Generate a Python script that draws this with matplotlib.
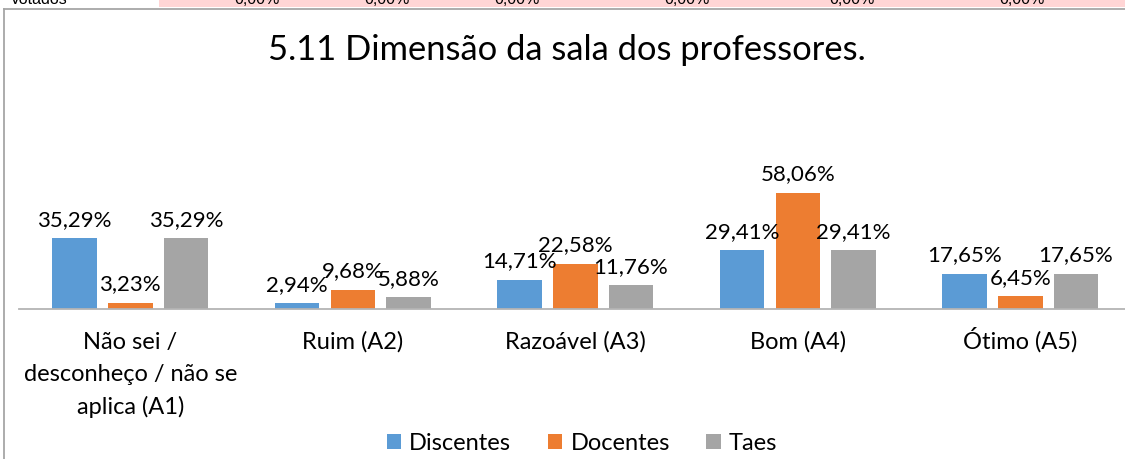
import matplotlib.pyplot as plt
from matplotlib.patches import Patch, Rectangle
from matplotlib.lines import Line2D
import numpy as np

# dados do gráfico
categorias = ['Não sei /\ndesconheço / não se\naplica (A1)', 'Ruim (A2)',
              'Razoável (A3)', 'Bom (A4)', 'Ótimo (A5)']
series = ['Discentes', 'Docentes', 'Taes']
discentes = [35.29, 2.94, 14.71, 29.41, 17.65]
docentes = [3.23, 9.68, 22.58, 58.06, 6.45]
taes = [35.29, 5.88, 11.76, 29.41, 17.65]
cores = ['#5B9BD5', '#ED7D31', '#A5A5A5']

# linha da planilha que aparece cortada acima do gráfico
linha_topo = ['0,00%'] * 6
linha_topo_x = [257, 387, 517, 687, 852, 1022]

W, H = 1125, 459
PX = 0.72  # pontos por pixel com dpi=100
plt.rcParams['font.family'] = ['Lato', 'DejaVu Sans']

fig = plt.figure(figsize=(W / 100, H / 100), dpi=100)

# faixa rosa com os textos cortados
fig.add_artist(Rectangle((159 / W, 1 - 7 / H), 1, 7 / H, transform=fig.transFigure,
                         facecolor='#ffd5d5', edgecolor='none'))
fig.text(68 / W, 1 - 4.5 / H, 'Votados', ha='right', va='baseline',
         fontsize=11.5, family='Liberation Sans', color='black')
for txt, x in zip(linha_topo, linha_topo_x):
    fig.text(x / W, 1 - 4.5 / H, txt, ha='center', va='baseline',
             fontsize=11.5, family='Liberation Sans', color='black')

# borda da área do gráfico
borda = '#a6a6a6'
fig.add_artist(Line2D([4 / W, 4 / W], [0, 1 - 8.5 / H], transform=fig.transFigure,
                      color=borda, lw=1.3))
fig.add_artist(Line2D([4 / W, 1], [1 - 8.5 / H, 1 - 8.5 / H], transform=fig.transFigure,
                      color=borda, lw=1.3))

# eixo ocupa de x=19 px até além da borda direita
ax = fig.add_axes([19 / W, 150 / H, 1112.5 / W, 140 / H])
x = np.arange(len(categorias))
largura = 0.2
passo = 0.25

for i, (nome, valores) in enumerate(zip(series, [discentes, docentes, taes])):
    barras = ax.bar(x + (i - 1) * passo, valores, largura, color=cores[i], label=nome)
    rotulos = [f'{v:.2f}%'.replace('.', ',') for v in valores]
    ax.bar_label(barras, labels=rotulos, padding=6, fontsize=16, color='#000000')

ax.set_xlim(-0.5, len(categorias) - 0.5)
ax.set_ylim(0, 70)
ax.set_xticks([])
ax.set_yticks([])
for lado in ['top', 'right', 'left']:
    ax.spines[lado].set_visible(False)
ax.spines['bottom'].set_color('#b4b4b4')
ax.spines['bottom'].set_linewidth(1.3)
ax.set_facecolor('none')

# rótulos das categorias, linha a linha, alinhados pela linha de base
for xi, cat in zip(x, categorias):
    for j, linha in enumerate(cat.split('\n')):
        ax.annotate(linha, xy=(xi, 0), xycoords=('data', 'axes fraction'),
                    xytext=(0, -(39.5 + 32.7 * j) * PX), textcoords='offset points',
                    ha='center', va='baseline', fontsize=17, annotation_clip=False)

fig.text(567 / W, 1 - 50 / H, '5.11 Dimensão da sala dos professores.',
         ha='center', va='center', fontsize=24.8)

handles = [Patch(facecolor=c, edgecolor='none') for c in cores]
fig.legend(handles, series, loc='center', bbox_to_anchor=(582 / W, 16 / H),
           ncol=3, frameon=False, fontsize=17, handlelength=0.61, handleheight=0.61,
           handletextpad=0.35, columnspacing=1.55)

fig.savefig('out.png', dpi=100)
